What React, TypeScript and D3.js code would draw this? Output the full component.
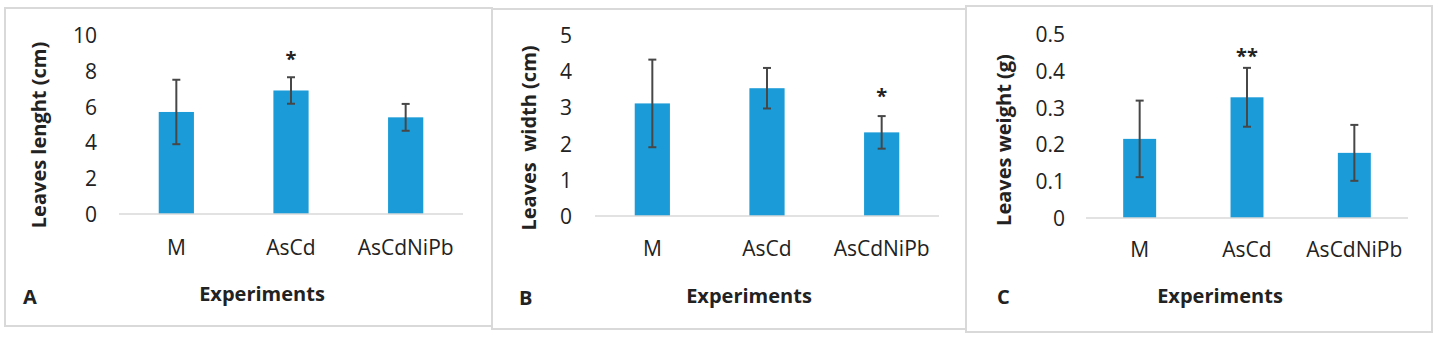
import React from "react";
import * as d3 from "d3";

const categories = ["M", "AsCd", "AsCdNiPb"];

const lengthMeans = [5.7, 6.9, 5.4];
const lengthErrors = [1.8, 0.74, 0.75];
const lengthMarks = ["", "*", ""];
const lengthTicks = [0, 2, 4, 6, 8, 10];

const widthMeans = [3.11, 3.53, 2.31];
const widthErrors = [1.21, 0.56, 0.45];
const widthMarks = ["", "", "*"];
const widthTicks = [0, 1, 2, 3, 4, 5];

const weightMeans = [0.215, 0.328, 0.177];
const weightErrors = [0.104, 0.08, 0.076];
const weightMarks = ["", "**", ""];
const weightTicks = [0, 0.1, 0.2, 0.3, 0.4, 0.5];

const xTitle = "Experiments";

type Panel = {
  letter: string;
  title: string;
  means: number[];
  errors: number[];
  marks: string[];
  ticks: number[];
  fmt: (v: number) => string;
  box: [number, number, number, number];
  plotX: [number, number];
  y0: number;
  yTop: number;
  labelX: number;
  titleX: number;
  titleY: number;
  letterPos: [number, number];
  expPos: [number, number];
  catY: number;
  markGap: number;
};

const panels: Panel[] = [
  {
    letter: "A",
    title: "Leaves lenght (cm)",
    means: lengthMeans,
    errors: lengthErrors,
    marks: lengthMarks,
    ticks: lengthTicks,
    fmt: (v) => String(v),
    box: [5, 8, 492, 326],
    plotX: [119, 463],
    y0: 214,
    yTop: 35,
    labelX: 97,
    titleX: 38,
    titleY: 135,
    letterPos: [23, 296],
    expPos: [262, 293],
    catY: 247,
    markGap: 22,
  },
  {
    letter: "B",
    title: "Leaves  width (cm)",
    means: widthMeans,
    errors: widthErrors,
    marks: widthMarks,
    ticks: widthTicks,
    fmt: (v) => String(v),
    box: [492, 9, 966, 329],
    plotX: [595, 939],
    y0: 216,
    yTop: 35,
    labelX: 572,
    titleX: 528,
    titleY: 138,
    letterPos: [519, 297],
    expPos: [749, 295],
    catY: 248,
    markGap: 24,
  },
  {
    letter: "C",
    title: "Leaves weight (g)",
    means: weightMeans,
    errors: weightErrors,
    marks: weightMarks,
    ticks: weightTicks,
    fmt: (v) => (v === 0 ? "0" : d3.format(".1f")(v)),
    box: [966, 6, 1432, 332],
    plotX: [1086, 1408],
    y0: 218,
    yTop: 34,
    labelX: 1065,
    titleX: 1003,
    titleY: 140,
    letterPos: [997, 296],
    expPos: [1220, 295],
    catY: 249,
    markGap: 16,
  },
];

const FONT = "'Open Sans', 'Noto Sans', sans-serif";
const BAR = "#1b9bd7";
const ERR = "#474747";
const TXT = "#222222";

function ChartPanel({ p }: { p: Panel }) {
  const x = d3
    .scaleBand<string>()
    .domain(categories)
    .range(p.plotX)
    .paddingInner(0.693)
    .paddingOuter(0.3465);
  const y = d3
    .scaleLinear()
    .domain([0, p.ticks[p.ticks.length - 1]])
    .range([p.y0, p.yTop]);
  const [bx0, by0, bx1, by1] = p.box;
  return (
    <g>
      <rect
        x={bx0}
        y={by0}
        width={bx1 - bx0}
        height={by1 - by0}
        fill="none"
        stroke="#d9d9d9"
        strokeWidth={2}
      />
      {p.ticks.map((t) => (
        <text
          key={t}
          x={p.labelX}
          y={y(t)}
          textAnchor="end"
          dominantBaseline="central"
          fontFamily={FONT}
          fontSize={21}
          fill={TXT}
        >
          {p.fmt(t)}
        </text>
      ))}
      {categories.map((c, i) => {
        const cx = (x(c) as number) + x.bandwidth() / 2;
        const hi = y(p.means[i] + p.errors[i]);
        const lo = y(p.means[i] - p.errors[i]);
        return (
          <g key={c}>
            <rect
              x={x(c)}
              y={y(p.means[i])}
              width={x.bandwidth()}
              height={p.y0 - y(p.means[i])}
              fill={BAR}
            />
            <line x1={cx} x2={cx} y1={hi} y2={lo} stroke={ERR} strokeWidth={2} />
            <line x1={cx - 4} x2={cx + 4} y1={hi} y2={hi} stroke={ERR} strokeWidth={2} />
            <line x1={cx - 4} x2={cx + 4} y1={lo} y2={lo} stroke={ERR} strokeWidth={2} />
            {p.marks[i] && (
              <text
                x={cx}
                y={hi - p.markGap + 11}
                textAnchor="middle"
                fontFamily={FONT}
                fontSize={20}
                fontWeight={700}
                fill={TXT}
              >
                {p.marks[i]}
              </text>
            )}
            <text
              x={cx}
              y={p.catY}
              textAnchor="middle"
              dominantBaseline="central"
              fontFamily={FONT}
              fontSize={21}
              fill={TXT}
            >
              {c}
            </text>
          </g>
        );
      })}
      <line
        x1={p.plotX[0]}
        x2={p.plotX[1]}
        y1={p.y0}
        y2={p.y0}
        stroke="#d9d9d9"
        strokeWidth={1.5}
      />
      <text
        transform={`translate(${p.titleX},${p.titleY}) rotate(-90)`}
        textAnchor="middle"
        dominantBaseline="central"
        fontFamily={FONT}
        fontSize={20}
        fontWeight={700}
        fill={TXT}
        style={{ whiteSpace: "pre" }}
      >
        {p.title}
      </text>
      <text
        x={p.expPos[0]}
        y={p.expPos[1]}
        textAnchor="middle"
        dominantBaseline="central"
        fontFamily={FONT}
        fontSize={20}
        fontWeight={700}
        fill={TXT}
      >
        {xTitle}
      </text>
      <text
        x={p.letterPos[0]}
        y={p.letterPos[1]}
        dominantBaseline="central"
        fontFamily={FONT}
        fontSize={20}
        fontWeight={700}
        fill={TXT}
      >
        {p.letter}
      </text>
    </g>
  );
}

export default function App() {
  return (
    <div style={{ position: "absolute", left: 0, top: 0 }}>
      <svg width={1442} height={340} style={{ display: "block", background: "#fff" }}>
        {panels.map((p) => (
          <ChartPanel key={p.letter} p={p} />
        ))}
      </svg>
    </div>
  );
}
